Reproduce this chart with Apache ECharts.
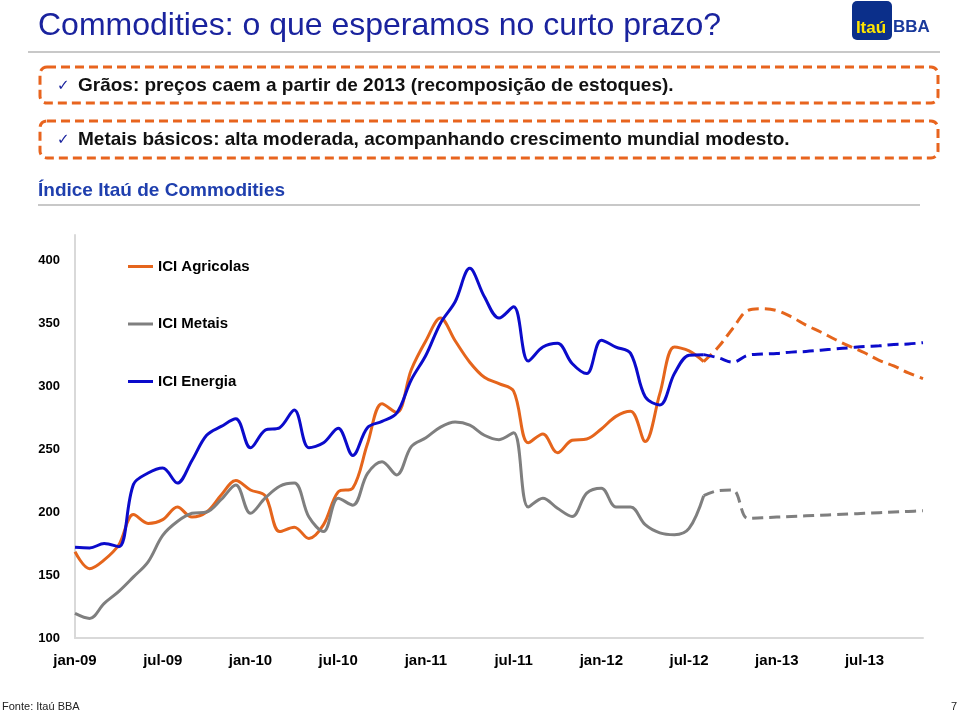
<!DOCTYPE html>
<html><head><meta charset="utf-8">
<script src="https://cdn.jsdelivr.net/npm/echarts@6/dist/echarts.min.js"></script>
<style>html,body{margin:0;padding:0;background:#fff}#c{width:959px;height:714px}</style>
</head><body><div id="c"></div><script>
// ---- data ----
const categories = [
 'jan-09','fev-09','mar-09','abr-09','mai-09','jun-09','jul-09','ago-09','set-09','out-09','nov-09','dez-09',
 'jan-10','fev-10','mar-10','abr-10','mai-10','jun-10','jul-10','ago-10','set-10','out-10','nov-10','dez-10',
 'jan-11','fev-11','mar-11','abr-11','mai-11','jun-11','jul-11','ago-11','set-11','out-11','nov-11','dez-11',
 'jan-12','fev-12','mar-12','abr-12','mai-12','jun-12','jul-12','ago-12','set-12','out-12','nov-12','dez-12',
 'jan-13','fev-13','mar-13','abr-13','mai-13','jun-13','jul-13','ago-13','set-13','out-13','nov-13'
];
const yTicks = [100, 150, 200, 250, 300, 350, 400];

// observed (jan-09 .. ago-12)
const agricolas = [168.5,155,162,174,198,191,194,204,196,200,213.5,225,217.5,213,184.5,188,179,190,216,219,254,286,279,313,336,354,336,319,307,302,296,255,262,247,257,258,266,276,280,256,294,331,328,319.5];
const metais    = [119.5,115.5,127.5,137,148.5,160.5,181.5,192.5,199,200,210,221.5,199,211,220.5,223,196,184.5,211,205.5,230.5,240,229.5,252,259,267.5,271.5,269,261,257.5,263,204,211,203,196.5,215,219,204,204,190,183.5,182,187,213];
const energia   = [172,171.5,175,172.5,222,231,235,223,241,261,268,274,251,265,267,281,251,255,266.5,245,267,272,278.5,305,324.5,350,367,393.5,371,354,363,320,331,334,318,310,336.5,331,326,291.5,285,310,324.5,325];
// projections (ago-12 .. nov-13)
const agricolasProj = [319.5,331,346,360,361.5,360,355,348.5,343,337,331.5,326.5,320.5,316,310.5,306];
const metaisProj    = [213,217,217.5,195,195.5,196,196.5,197,197.5,198,198.5,199,199.5,200,200.5,201];
const energiaProj   = [325,322.5,319,324.5,325.5,326,327,327.5,328.5,329.5,330.5,331.5,332,333,333.5,334.5];

const seriesNames = ['ICI Agricolas', 'ICI Metais', 'ICI Energia'];
const colors = ['#E5651C', '#7F7F7F', '#0B0BCB'];

// ---- build ----
const N = categories.length;
function solid(arr){ const o = arr.slice(); while (o.length < N) o.push(null); return o; }
function proj(arr){ const o = []; while (o.length < N - arr.length) o.push(null); return o.concat(arr); }

const FF = 'Liberation Sans, Arial, Helvetica, sans-serif';
const observed = [agricolas, metais, energia];
const projected = [agricolasProj, metaisProj, energiaProj];
const series = [];
for (let i = 0; i < 3; i++) {
  series.push({
    name: seriesNames[i], type: 'line', data: solid(observed[i]), smooth: 0.35,
    symbol: 'none', showSymbol: false, connectNulls: false,
    lineStyle: { color: colors[i], width: 3 }, itemStyle: { color: colors[i] }, z: 3 + i
  });
}
for (let i = 0; i < 3; i++) {
  series.push({
    name: seriesNames[i] + ' (projeção)', type: 'line', data: proj(projected[i]), smooth: 0.35,
    symbol: 'none', showSymbol: false,
    lineStyle: { color: colors[i], width: 3, type: [11, 6] }, itemStyle: { color: colors[i] }, z: 3 + i
  });
}

const chart = echarts.init(document.getElementById('c'), null, { renderer: 'canvas' });
chart.setOption({
  animation: false,
  backgroundColor: '#fff',
  grid: { left: 75, right: 36, top: 235, bottom: 76, containLabel: false },
  legend: {
    data: seriesNames.map(n => ({ name: n, icon: 'rect' })),
    orient: 'vertical', left: 123, top: 254, itemWidth: 25, itemHeight: 3, itemGap: 42.5,
    selectedMode: false,
    textStyle: { fontFamily: FF, fontWeight: 'bold', fontSize: 15, color: '#000' }
  },
  xAxis: {
    type: 'category', data: categories, boundaryGap: false,
    axisLine: { lineStyle: { color: '#D9D9D9', width: 2 } },
    axisTick: { show: false },
    splitLine: { show: false },
    axisLabel: {
      interval: (i) => i % 6 === 0, margin: 15,
      fontFamily: FF, fontWeight: 'bold', fontSize: 15, color: '#000'
    }
  },
  yAxis: {
    type: 'value', min: 100, max: 420, interval: 50,
    axisLine: { show: true, lineStyle: { color: '#D9D9D9', width: 2 } },
    axisTick: { show: false },
    splitLine: { show: false },
    axisLabel: {
      margin: 15, fontFamily: FF, fontWeight: 'bold', fontSize: 13, color: '#000',
      formatter: (v) => yTicks.indexOf(v) >= 0 ? String(v) : ''
    }
  },
  graphic: [
    { type: 'text', x: 38, y: 26, style: { text: 'Commodities: o que esperamos no curto prazo?', fill: '#1A239E', font: '32px ' + FF, textAlign: 'left', textVerticalAlign: 'middle' } },
    { type: 'line', shape: { x1: 28, y1: 52, x2: 940, y2: 52 }, style: { stroke: '#C8C8C8', lineWidth: 2 } },
    { type: 'rect', shape: { x: 852, y: 1, width: 40, height: 39, r: 5 }, style: { fill: '#0B2F8A' } },
    { type: 'text', x: 871, y: 28, style: { text: 'Itaú', fill: '#FFE500', font: 'bold 17px ' + FF, textAlign: 'center', textVerticalAlign: 'middle' } },
    { type: 'text', x: 893, y: 27, style: { text: 'BBA', fill: '#1A3A9C', font: 'bold 17px ' + FF, textAlign: 'left', textVerticalAlign: 'middle' } },
    { type: 'rect', shape: { x: 40, y: 67, width: 898, height: 36, r: 7 }, style: { fill: 'none', stroke: '#E8641E', lineWidth: 3, lineDash: [9, 5] } },
    { type: 'rect', shape: { x: 40, y: 121, width: 898, height: 37, r: 7 }, style: { fill: 'none', stroke: '#E8641E', lineWidth: 3, lineDash: [9, 5] } },
    { type: 'text', x: 57, y: 86, style: { text: '✓', fill: '#1A239E', font: '15px DejaVu Sans', textAlign: 'left', textVerticalAlign: 'middle' } },
    { type: 'text', x: 78, y: 86, style: { text: 'Grãos: preços caem a partir de 2013 (recomposição de estoques).', fill: '#111', font: 'bold 19px ' + FF, textAlign: 'left', textVerticalAlign: 'middle' } },
    { type: 'text', x: 57, y: 140, style: { text: '✓', fill: '#1A239E', font: '15px DejaVu Sans', textAlign: 'left', textVerticalAlign: 'middle' } },
    { type: 'text', x: 78, y: 140, style: { text: 'Metais básicos: alta moderada, acompanhando crescimento mundial modesto.', fill: '#111', font: 'bold 19px ' + FF, textAlign: 'left', textVerticalAlign: 'middle' } },
    { type: 'text', x: 38, y: 191, style: { text: 'Índice Itaú de Commodities', fill: '#1F3FAE', font: 'bold 19px ' + FF, textAlign: 'left', textVerticalAlign: 'middle' } },
    { type: 'line', shape: { x1: 38, y1: 205, x2: 920, y2: 205 }, style: { stroke: '#C8C8C8', lineWidth: 2 } },
    { type: 'text', x: 2, y: 707, style: { text: 'Fonte: Itaú BBA', fill: '#222', font: '11px ' + FF, textAlign: 'left', textVerticalAlign: 'middle' } },
    { type: 'text', x: 957, y: 707, style: { text: '7', fill: '#222', font: '11px ' + FF, textAlign: 'right', textVerticalAlign: 'middle' } }
  ],
  series: series
});
</script></body></html>
